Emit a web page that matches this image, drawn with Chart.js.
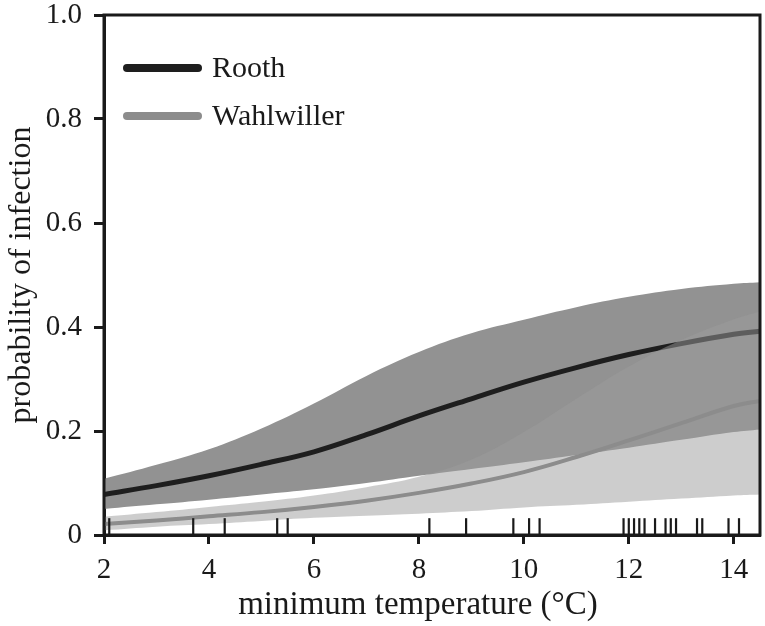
<!DOCTYPE html>
<html lang="en">
<head>
    <meta charset="UTF-8">
    <title>Probability of infection</title>
    <script src="https://cdn.jsdelivr.net/npm/chart.js"></script>
    <style>
        body {
            margin: 0;
            background: white;
        }
        #chart {
            display: block;
        }
    </style>
</head>
<body>
    <canvas id="chart" width="765" height="626"></canvas>

    <script>
        // minimum temperature (°C) where the fitted curves were read
        const temps = [2, 3, 4, 5, 6, 7, 8, 9, 10, 11, 12, 13, 14, 14.5];

        const roothFit   = [0.078, 0.095, 0.114, 0.136, 0.160, 0.193, 0.229, 0.262, 0.294, 0.322, 0.347, 0.368, 0.386, 0.392];
        const roothUpper = [0.108, 0.135, 0.165, 0.205, 0.253, 0.306, 0.352, 0.388, 0.414, 0.438, 0.458, 0.473, 0.483, 0.486];
        const roothLower = [0.050, 0.059, 0.068, 0.078, 0.088, 0.100, 0.114, 0.127, 0.140, 0.154, 0.168, 0.183, 0.198, 0.203];

        const wahlFit   = [0.021, 0.028, 0.036, 0.044, 0.054, 0.066, 0.081, 0.099, 0.121, 0.150, 0.182, 0.215, 0.248, 0.258];
        const wahlUpper = [0.035, 0.044, 0.054, 0.064, 0.076, 0.092, 0.112, 0.145, 0.198, 0.262, 0.324, 0.375, 0.415, 0.430];
        const wahlLower = [0.009, 0.016, 0.021, 0.027, 0.033, 0.037, 0.041, 0.046, 0.053, 0.058, 0.064, 0.070, 0.076, 0.078];

        // observed temperatures (rug along the x axis)
        const rugTemps = [2.1, 3.7, 4.3, 5.3, 5.5, 8.2, 8.9, 9.8, 10.1, 10.3,
                          11.9, 12.0, 12.1, 12.2, 12.3, 12.5, 12.7, 12.8, 12.9,
                          13.3, 13.4, 13.9, 14.1];

        const seriesNames = ['Rooth', 'Wahlwiller'];
        const xTitle = 'minimum temperature (°C)';
        const yTitle = 'probability of infection';
        const xTicks = [2, 4, 6, 8, 10, 12, 14];
        const yTicks = [0, 0.2, 0.4, 0.6, 0.8, 1.0];
        const yTickLabels = ['0', '0.2', '0.4', '0.6', '0.8', '1.0'];

        const ink = '#1a1a1a';
        const roothColor = '#1e1e1e';
        const wahlColor = '#8c8c8c';
        const serif = 'Liberation Serif';

        const pts = (ys) => temps.map((t, i) => ({ x: t, y: ys[i] }));

        // box round the plot area, drawn over the bands
        const frame = {
            id: 'frame',
            afterDatasetsDraw(chart) {
                const a = chart.chartArea;
                const c = chart.ctx;
                c.save();
                c.strokeStyle = ink;
                c.lineWidth = 3;
                c.strokeRect(a.left, a.top, a.right - a.left, a.bottom - a.top);
                c.restore();
            }
        };

        // legend in the top-left corner, and the x axis title
        const extras = {
            id: 'extras',
            afterDraw(chart) {
                const c = chart.ctx;
                const colors = [roothColor, wahlColor];
                c.save();
                seriesNames.forEach((name, i) => {
                    const y = 68 + i * 48;
                    c.strokeStyle = colors[i];
                    c.lineWidth = 8;
                    c.lineCap = 'round';
                    c.beginPath();
                    c.moveTo(127, y);
                    c.lineTo(198, y);
                    c.stroke();
                    c.fillStyle = ink;
                    c.font = '30px "' + serif + '"';
                    c.textBaseline = 'middle';
                    c.textAlign = 'left';
                    c.fillText(name, 212, y + 1);
                });
                c.font = '33px "' + serif + '"';
                c.textAlign = 'center';
                c.textBaseline = 'middle';
                c.fillText(xTitle, 418, 605);
                c.restore();
            }
        };

        const band = (data, fill, color, order) => ({
            type: 'line',
            data: data,
            borderWidth: 0,
            pointRadius: 0,
            tension: 0.4,
            fill: fill,
            backgroundColor: color,
            order: order
        });

        new Chart(document.getElementById('chart'), {
            type: 'line',
            data: {
                datasets: [
                    {
                        type: 'scatter',
                        data: rugTemps.map(t => ({ x: t, y: 0.016 })),
                        pointStyle: 'line',
                        rotation: 90,
                        radius: 8.5,
                        borderWidth: 2.2,
                        borderColor: ink,
                        order: 0
                    },
                    {
                        label: seriesNames[1],
                        data: pts(wahlFit),
                        borderColor: wahlColor,
                        borderWidth: 4,
                        pointRadius: 0,
                        tension: 0.4,
                        fill: false,
                        order: 1
                    },
                    band(pts(wahlUpper), '+1', 'rgba(155, 155, 155, 0.5)', 2),
                    band(pts(wahlLower), false, 'transparent', 3),
                    {
                        label: seriesNames[0],
                        data: pts(roothFit),
                        borderColor: roothColor,
                        borderWidth: 5,
                        pointRadius: 0,
                        tension: 0.4,
                        fill: false,
                        order: 4
                    },
                    band(pts(roothUpper), '+1', '#929292', 5),
                    band(pts(roothLower), false, 'transparent', 6)
                ]
            },
            options: {
                responsive: false,
                animation: false,
                devicePixelRatio: 1,
                layout: { autoPadding: false, padding: { left: 0, right: 5, top: 15, bottom: 0 } },
                plugins: {
                    legend: { display: false },
                    tooltip: { enabled: false }
                },
                scales: {
                    x: {
                        type: 'linear',
                        min: 2,
                        max: 14.5,
                        afterBuildTicks: s => { s.ticks = xTicks.map(v => ({ value: v })); },
                        afterFit: s => { s.height = 91; s.paddingLeft = 0; s.paddingRight = 0; },
                        border: { display: true, width: 3, color: ink },
                        grid: { drawOnChartArea: false, drawTicks: true, tickLength: 9, tickWidth: 3, color: ink },
                        ticks: { color: ink, padding: 9, font: { family: serif, size: 29 } }
                    },
                    y: {
                        min: 0,
                        max: 1,
                        afterBuildTicks: s => { s.ticks = yTicks.map(v => ({ value: v })); },
                        afterFit: s => { s.width = 104; s.paddingTop = 0; s.paddingBottom = 0; },
                        border: { display: true, width: 3, color: ink },
                        grid: { drawOnChartArea: false, drawTicks: true, tickLength: 10, tickWidth: 3, color: ink },
                        ticks: {
                            color: ink,
                            padding: 12,
                            font: { family: serif, size: 29 },
                            callback: (v) => yTickLabels[yTicks.indexOf(v)]
                        },
                        title: {
                            display: true,
                            text: yTitle,
                            color: ink,
                            font: { family: serif, size: 32 },
                            padding: { top: 2, bottom: 0 }
                        }
                    }
                }
            },
            plugins: [frame, extras]
        });
    </script>
</body>
</html>
